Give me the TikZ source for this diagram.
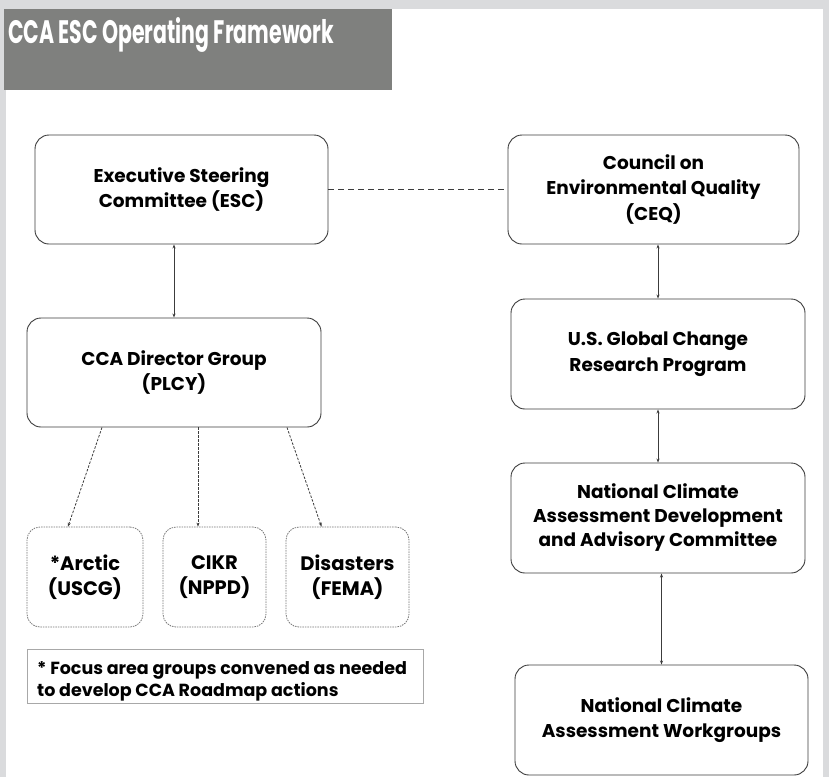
\documentclass[tikz,border=0pt]{standalone}
\usepackage{fontspec}
\setmainfont{Poppins}
\usetikzlibrary{arrows.meta}
\definecolor{framegray}{HTML}{DADBDD}
\definecolor{titlegray}{HTML}{7F807E}
\definecolor{linegray}{HTML}{3C3C3C}
\definecolor{notegray}{HTML}{A8A8A8}
\begin{document}
\begin{tikzpicture}[x=1pt,y=-1pt,
box/.style={draw=linegray, line width=0.9pt, rounded corners=14pt, align=center, inner sep=0pt,
  font=\fontsize{18.5}{25.5}\selectfont\bfseries, minimum width=293pt, minimum height=109pt},
focus/.style={draw=linegray!70, line width=0.8pt, dash pattern=on 1.5pt off 1pt, rounded corners=13pt,
  align=center, inner sep=0pt, font=\fontsize{19.5}{25}\selectfont\bfseries, minimum height=100pt},
link/.style={draw=linegray, line width=0.7pt, {Stealth[length=4pt,width=3pt]}-{Stealth[length=4pt,width=3pt]}},
sublink/.style={draw=linegray, line width=0.8pt, dash pattern=on 2.5pt off 1.5pt, -{Stealth[length=4pt,width=3pt]}}
]
% page frame and title bar
\fill[framegray] (0,0) rectangle (829,777);
\fill[white] (6,9) rectangle (823,777);
\fill[titlegray] (4,9) rectangle (392,90);
\node[anchor=base west, inner sep=0pt, text=white] (title) at (8,43)
  {\resizebox{326pt}{26pt}{\fontsize{34}{34}\selectfont\bfseries CCA ESC Operating Framework}};

% left column
\node[box] (esc) at (181.5,189.5) {Executive Steering\\Committee (ESC)};
\node[box, minimum width=294pt] (plcy) at (174,372.5) {CCA Director Group\\(PLCY)};
\node[focus, minimum width=116pt] (arctic) at (85,577) {*Arctic\\(USCG)};
\node[focus, minimum width=103pt] (cikr) at (214.5,577) {CIKR\\(NPPD)};
\node[focus, minimum width=123pt] (disasters) at (347.5,577) {Disasters\\(FEMA)};

% right column
\node[box, minimum width=291pt] (ceq) at (653.5,189.5) {Council on\\Environmental Quality\\(CEQ)};
\node[box, minimum width=294pt, minimum height=110pt] (usgcrp) at (658,354) {U.S. Global Change\\Research Program};
\node[box, minimum width=294pt, minimum height=110pt, font=\fontsize{18.5}{24}\selectfont\bfseries] (ncadac) at (658,518)
  {National Climate\\Assessment Development\\and Advisory Committee};
\node[box, minimum height=110pt] (ncawg) at (661.5,720) {National Climate\\Assessment Workgroups};

% footnote
\node[draw=notegray, line width=0.8pt, minimum width=396pt, minimum height=54pt, inner sep=0pt] (notebox) at (225,676) {};
\node[anchor=north west, align=left, inner sep=0pt, font=\fontsize{17.5}{22}\selectfont\bfseries] (note) at (37,661)
  {* Focus area groups convened as needed\\to develop CCA Roadmap actions};

% connectors
\draw[dashed, dash pattern=on 6pt off 4pt, draw=linegray, line width=0.8pt] (esc) -- (ceq);
\draw[link] (esc.south -| plcy.north) -- (plcy.north);
\draw[link] (usgcrp.north |- ceq.south) -- (usgcrp.north);
\draw[link] (usgcrp.south) -- (ncadac.north);
\draw[link] (ncawg.north |- ncadac.south) -- (ncawg.north);
\draw[sublink] ([xshift=-72pt]plcy.south) -- ([xshift=-17pt]arctic.north);
\draw[sublink] ([xshift=24pt]plcy.south) -- ([xshift=-16.5pt]cikr.north);
\draw[sublink] ([xshift=113pt]plcy.south) -- ([xshift=-26pt]disasters.north);
\end{tikzpicture}
\end{document}
